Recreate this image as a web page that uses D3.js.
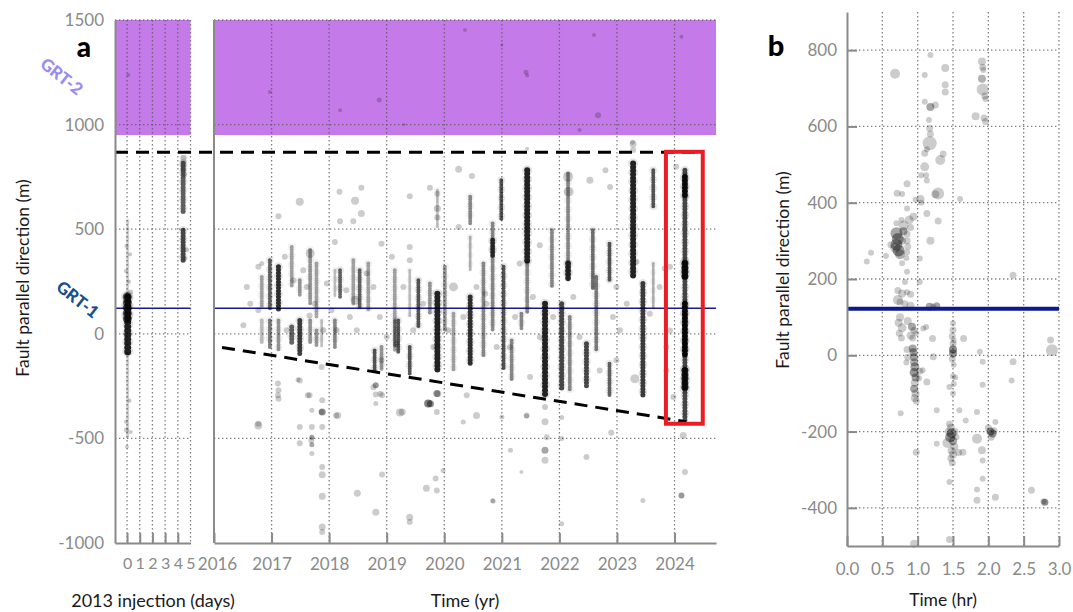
<!DOCTYPE html>
<html>
<head>
<meta charset="utf-8">
<script src="https://cdn.jsdelivr.net/npm/d3@7"></script>
<style>
    body { margin: 0; background: #fff; }
    text { font-family: Lato, "Open Sans", sans-serif; }
</style>
</head>
<body>
<svg id="chart" width="1073" height="612"></svg>
<script>
// ---- data ----
var dayTicks = [0, 1, 2, 3, 4, 5];
var yearTicks = [2016, 2017, 2018, 2019, 2020, 2021, 2022, 2023, 2024];
var depthTicksA = [-1000, -500, 0, 500, 1000, 1500];
var hourTicks = [0, 0.5, 1, 1.5, 2, 2.5, 3];
var depthTicksB = [-400, -200, 0, 200, 400, 600, 800];

var grt1 = 122, grt2Band = [950, 1500];
var upperBound = 868;
var lowerBound = [[2016.14, -65], [2024.2, -420]];
var focusBox = { t0: 2023.85, t1: 2024.49, y0: 870, y1: -430 };

// streaks of overlapping events: [time, top, bottom, alpha, width]
var streaksDays = [
    [0.05, 540, 176, 0.18, 3], [0.02, 176, 60, 0.6, 9], [0.05, 176, -94, 0.85, 7],
    [0.05, -94, -494, 0.18, 3], [4.45, 840, 780, 0.25, 6], [4.42, 815, 580, 0.6, 5],
    [4.42, 495, 337, 0.7, 5]
];
var pointsDays = [
    [0.1, 1237, 2], [-0.05, 420, 2], [0.25, 380, 2], [0.2, -320, 2], [-0.1, -420, 2],
    [0.3, -470, 2], [0.0, -540, 2], [-0.05, -460, 2.5], [4.7, 400, 2.5], [4.6, 360, 2],
    [4.5, 760, 3], [0.15, 250, 2], [-0.1, 300, 2], [0.3, 200, 2.5]
];
var streaksYears = [
    [2016.83, 272, 128, 0.35, 4], [2016.83, 64, -48, 0.25, 4],
    [2016.97, 352, 112, 0.6, 4], [2016.97, 64, -63, 0.5, 4],
    [2017.12, 320, 112, 0.8, 5], [2017.12, 64, -80, 0.4, 4],
    [2017.35, 415, 224, 0.35, 4], [2017.35, 32, -48, 0.6, 5],
    [2017.49, 256, 176, 0.4, 4], [2017.49, 64, -95, 0.75, 5],
    [2017.67, 400, 144, 0.4, 4], [2017.67, 64, -48, 0.4, 4],
    [2017.78, 336, 80, 0.35, 4], [2017.78, 16, -63, 0.4, 4],
    [2017.87, 64, -63, 0.25, 3],
    [2018.10, 304, 176, 0.25, 3], [2018.10, 64, -63, 0.45, 4],
    [2018.19, 304, 176, 0.6, 4],
    [2018.42, 352, 144, 0.35, 4],
    [2018.53, 304, 128, 0.6, 4],
    [2018.68, 336, 112, 0.35, 4],
    [2018.79, -80, -175, 0.65, 4],
    [2018.91, -63, -175, 0.4, 4],
    [2019.14, 304, -80, 0.35, 4], [2019.14, 64, -63, 0.4, 3],
    [2019.20, 64, -95, 0.65, 4],
    [2019.40, 304, 80, 0.25, 3], [2019.40, -63, -190, 0.65, 4],
    [2019.55, 256, 32, 0.65, 4],
    [2019.75, 240, 96, 0.4, 4],
    [2019.88, 686, 511, 0.25, 3], [2019.88, 192, -175, 0.85, 6],
    [2020.01, 320, 16, 0.4, 4],
    [2020.16, 96, -175, 0.35, 4],
    [2020.45, 655, 527, 0.45, 4], [2020.45, 463, 304, 0.3, 3], [2020.45, 176, -143, 0.8, 5],
    [2020.68, 336, -111, 0.45, 4],
    [2020.84, 527, 16, 0.45, 4], [2020.84, 447, 367, 0.7, 5],
    [2020.99, 734, 543, 0.65, 4],
    [2021.03, 320, -175, 0.65, 4],
    [2021.17, -32, -223, 0.45, 4],
    [2021.34, 96, 16, 0.45, 4],
    [2021.44, 782, 336, 0.85, 6], [2021.44, 336, 96, 0.45, 4],
    [2021.75, 144, -302, 0.85, 6],
    [2021.87, 495, 224, 0.45, 4],
    [2022.04, 144, -270, 0.7, 5],
    [2022.15, 766, 256, 0.45, 4], [2022.15, 336, 256, 0.75, 6],
    [2022.18, 80, -270, 0.45, 4],
    [2022.47, -47, -255, 0.7, 5],
    [2022.58, 495, 208, 0.55, 4],
    [2022.64, 272, -80, 0.5, 4],
    [2022.87, 431, 256, 0.65, 4], [2022.87, -143, -302, 0.6, 4],
    [2023.28, 814, 272, 0.85, 6],
    [2023.45, 240, -302, 0.75, 5],
    [2023.63, 782, 607, 0.65, 4], [2023.63, 336, 128, 0.3, 3],
    [2024.18, 782, -420, 0.7, 5], [2024.18, 750, 655, 0.85, 6], [2024.18, 336, 256, 0.9, 7],
    [2024.18, 144, -111, 0.9, 6], [2024.18, -175, -270, 0.85, 7]
];
// single events: [time, position, radius, alpha]
var pointsYears = [
    [2016.97, 1156, 2], [2018.19, 1069, 2], [2018.87, 1117, 2.5], [2020.36, 1452, 2],
    [2021.42, 1250, 2.5], [2021.44, 1235, 2], [2022.35, 974, 2], [2022.60, 1428, 2],
    [2024.12, 1420, 2], [2022.67, 1045, 3], [2023.28, 907, 3.5], [2021.0, 1380, 1.5],
    [2019.3, 1000, 1.5], [2021.44, 885, 2], [2023.27, 916, 2.5],
    [2017.49, 631, 4], [2017.12, 562, 3], [2018.18, 679, 3], [2018.45, 636, 4], [2018.56, 698, 3],
    [2018.56, 575, 3.5], [2018.19, 538, 3], [2018.42, 538, 3], [2019.40, 658, 3], [2019.75, 698, 3],
    [2019.88, 670, 3], [2019.88, 599, 3.5], [2019.88, 556, 3], [2020.25, 786, 3.5], [2020.48, 754, 3],
    [2020.25, 511, 3], [2022.15, 750, 5], [2022.16, 679, 5], [2022.80, 782, 3], [2022.53, 734, 3.5],
    [2023.28, 878, 3], [2022.88, 702, 3], [2024.03, 798, 3], [2021.66, 423, 3], [2023.34, 344, 3],
    [2023.83, 312, 3], [2016.77, 320, 3], [2017.67, 384, 4.5], [2018.10, 439, 3], [2018.45, 160, 4.5],
    [2018.65, 288, 3], [2018.91, 431, 3], [2019.40, 415, 3], [2019.40, 352, 3], [2020.16, 224, 4.5],
    [2019.76, -334, 3.5, 0.45], [2019.27, -374, 3.5], [2021.43, -390, 3], [2021.78, -494, 3],
    [2016.77, -430, 3], [2017.69, -510, 3], [2018.12, -390, 3], [2019.89, -286, 3.5],
    [2023.31, -215, 4.5], [2021.14, -63, 3], [2021.49, -207, 3], [2022.99, -127, 3], [2023.86, -63, 3],
    [2023.92, 16, 3], [2022.93, 80, 3], [2022.99, 224, 3], [2023.92, 320, 3], [2020.71, 192, 3],
    [2019.17, -48, 3], [2018.91, -127, 3], [2018.89, -286, 3], [2018.77, -255, 3], [2017.12, -270, 3],
    [2017.12, -310, 3], [2017.49, -223, 3], [2017.66, -294, 3], [2017.87, -374, 3], [2017.66, 88, 3],
    [2017.87, -159, 3],
    [2016.57, 224, 3], [2016.63, 144, 3], [2016.51, 41, 3], [2016.77, 112, 3], [2016.83, 336, 2.5],
    [2017.23, 368, 3], [2017.26, 17, 3], [2017.38, 256, 3], [2017.55, 304, 3], [2017.61, 224, 3],
    [2017.75, 144, 3], [2017.90, 17, 3], [2017.96, 240, 3], [2018.04, 112, 3], [2018.13, 17, 3],
    [2018.30, 208, 3], [2018.36, 80, 3], [2018.48, 17, 3], [2018.77, 224, 3], [2018.88, 80, 3],
    [2019.00, -15, 3], [2019.09, 368, 3], [2019.29, 224, 3], [2019.46, 17, 3], [2019.63, 144, 3],
    [2019.81, -63, 3], [2020.07, 17, 3], [2020.33, 80, 3], [2020.56, 224, 3], [2020.73, 144, 3],
    [2020.91, -63, 3], [2021.23, 80, 3], [2021.31, 336, 3], [2021.54, 176, 3], [2021.66, -15, 3],
    [2021.89, 80, 3], [2022.24, 176, 3], [2022.35, -15, 3], [2022.70, -175, 3], [2023.05, 17, 3],
    [2023.17, 144, 3], [2023.57, 96, 3], [2023.74, 224, 3], [2023.86, -175, 3], [2023.98, -302, 3],
    [2016.77, -438, 4], [2017.11, -294, 3], [2017.11, -238, 3], [2017.46, -220, 2.5], [2017.63, -294, 3],
    [2017.70, -366, 2.5], [2017.49, -446, 3], [2017.70, -446, 3], [2017.88, -374, 3.5, 0.4],
    [2017.88, -318, 3], [2017.88, -446, 3], [2017.70, -494, 2.5, 0.4], [2017.70, -530, 2.5, 0.35],
    [2017.70, -572, 2.5], [2017.49, -523, 3], [2017.88, -637, 3], [2017.88, -674, 3.5],
    [2017.88, -776, 3.5], [2017.88, -924, 3.5], [2017.88, -948, 3], [2018.15, -390, 3.5],
    [2018.49, -762, 3.5], [2018.81, -246, 3, 0.4], [2018.81, -290, 3], [2018.81, -333, 2.5],
    [2018.92, -294, 3], [2018.81, -853, 3.5], [2018.92, -672, 3], [2019.23, -376, 4],
    [2019.40, -877, 3.5], [2019.40, -900, 3], [2019.72, -333, 4, 0.5], [2019.87, -285, 3.5, 0.4],
    [2019.87, -374, 3], [2019.69, -738, 3.5], [2019.85, -692, 3], [2019.87, -749, 3],
    [2019.98, -653, 2.5], [2020.39, -294, 3], [2020.56, -390, 3.5], [2020.33, -422, 2.5],
    [2020.85, -800, 2.5], [2021.0, -398, 2.5], [2021.43, -393, 2.5], [2021.75, -350, 3],
    [2021.75, -420, 3.5], [2021.75, -557, 3.5, 0.35], [2021.75, -605, 3.5], [2022.04, -400, 2.5],
    [2022.04, -500, 2.5], [2022.04, -908, 2.5], [2022.47, -589, 3], [2022.90, -473, 3],
    [2023.45, -797, 2.5], [2024.15, -486, 3.5], [2024.18, -661, 3], [2024.12, -773, 3, 0.4],
    [2021.15, -557, 2.5], [2020.84, -797, 2.5], [2021.34, -661, 2]
];
var pointsHours = [
    [1.18, 787, 3], [0.68, 738, 5], [1.10, 735, 3], [1.39, 753, 4], [1.39, 709, 3.5], [1.39, 690, 3.5],
    [1.10, 665, 3], [1.18, 651, 4, 0.35], [1.25, 656, 3.5], [1.16, 617, 3],
    [1.91, 770, 4], [1.92, 755, 3.5], [1.93, 748, 3], [1.91, 725, 4, 0.3], [1.92, 697, 6],
    [1.95, 680, 3.5], [1.96, 672, 3], [1.82, 627, 4], [1.94, 622, 3.5], [1.96, 613, 3.5],
    [1.17, 595, 3.5], [1.18, 580, 3.5], [1.17, 556, 7], [1.13, 540, 3], [1.10, 530, 3.5],
    [1.36, 528, 3.5], [1.32, 512, 5], [1.10, 494, 4.5], [1.05, 472, 3], [1.12, 472, 3], [1.13, 458, 3],
    [0.71, 425, 3.5], [0.78, 423, 3], [0.85, 450, 3.5], [1.29, 424, 6], [1.25, 422, 4], [1.60, 410, 3],
    [1.04, 410, 4], [0.97, 408, 3], [1.05, 400, 3], [1.13, 372, 3.5], [1.29, 352, 3.5], [1.18, 300, 4],
    [0.28, 246, 3], [0.34, 269, 3], [2.35, 210, 3.5],
    [0.85, 385, 3], [0.94, 363, 4], [0.88, 355, 4.5], [0.77, 355, 3], [0.70, 346, 3], [0.80, 340, 5],
    [0.90, 335, 3.5],
    [0.70, 320, 6, 0.35], [0.72, 305, 6, 0.4], [0.70, 290, 6, 0.35], [0.73, 275, 6, 0.4],
    [0.75, 265, 5, 0.3], [0.68, 282, 5], [0.78, 300, 4], [0.85, 318, 3.5], [0.85, 300, 3.5],
    [0.86, 285, 3.5], [0.85, 270, 3], [0.84, 255, 3], [0.62, 290, 3.5], [0.55, 260, 3], [0.78, 241, 3],
    [0.85, 219, 3], [1.03, 254, 3], [0.80, 325, 4, 0.35], [0.82, 192, 3], [1.03, 192, 3],
    [0.72, 170, 3.5], [0.78, 162, 4], [0.85, 165, 3], [0.9, 160, 3.5], [0.75, 140, 3.5],
    [0.82, 135, 3.5], [0.9, 130, 4], [0.72, 145, 5], [1.17, 127, 4, 0.35], [1.27, 130, 3.5, 0.35],
    [1.22, 128, 3],
    [0.75, 100, 4], [0.73, 85, 4], [0.78, 72, 4.5], [0.74, 58, 3.5], [0.77, 45, 3.5], [0.86, 90, 4],
    [0.92, 75, 4, 0.35], [0.95, 65, 3.5], [0.90, 52, 4], [0.93, 45, 3.5], [0.98, 58, 3], [1.12, 74, 3],
    [1.21, 44, 3.5], [1.08, 70, 3], [1.50, 84, 3], [1.50, 66, 3.5], [1.49, 50, 3.5], [1.51, 39, 3],
    [1.65, 44, 3.5], [2.88, 40, 3.5], [2.90, 13, 6],
    [0.85, 15, 3.5], [0.86, -5, 3.5], [0.84, -19, 3],
    [0.93, 18, 4, 0.35], [0.94, 8, 4, 0.35], [0.95, -5, 4, 0.35], [0.95, -18, 4, 0.3],
    [0.96, -30, 4.5, 0.35], [0.95, -45, 4.5, 0.4], [0.97, -58, 4, 0.35], [0.96, -72, 4],
    [0.95, -88, 4, 0.35], [0.97, -100, 4], [0.96, -112, 4], [0.98, -120, 3.5], [1.03, -42, 3.5],
    [1.07, -39, 3], [1.02, -60, 3], [1.13, -70, 3.5], [1.22, -4, 3.5], [1.45, -83, 3],
    [1.50, 30, 3.5], [1.50, 15, 4, 0.45], [1.50, 5, 4, 0.4], [1.49, -10, 3.5], [1.51, -25, 3],
    [1.50, -55, 3], [1.51, -75, 3], [1.50, -100, 3], [1.53, -58, 3],
    [1.88, 9, 3], [1.92, -17, 3], [2.35, -17, 3.5], [2.33, -66, 3], [1.92, -77, 3],
    [1.27, -144, 3], [1.59, -144, 3], [1.68, -171, 3], [1.84, -149, 3], [0.76, -152, 3],
    [1.45, -180, 3.5], [1.47, -190, 4], [1.48, -205, 5, 0.4], [1.46, -215, 5, 0.4],
    [1.50, -225, 4, 0.35], [1.42, -230, 5], [1.52, -240, 4], [1.48, -250, 4], [1.50, -260, 4],
    [1.47, -270, 3.5], [1.49, -282, 3.5], [1.44, -200, 4], [1.53, -200, 3.5], [1.55, -215, 3],
    [1.58, -255, 3.5], [1.27, -232, 3],
    [0.98, -254, 3.5], [1.64, -254, 3.5], [1.84, -219, 5], [1.91, -249, 4], [1.92, -276, 3],
    [2.0, -190, 3.5], [2.03, -200, 4, 0.4], [2.06, -205, 4, 0.4], [2.04, -215, 3.5], [2.08, -198, 3.5],
    [2.1, -175, 3],
    [1.45, -332, 3], [1.92, -324, 3], [1.84, -352, 3], [1.84, -380, 3.5], [2.10, -372, 3.5],
    [2.61, -354, 3.5], [2.80, -385, 3.5, 0.45], [2.78, -383, 3], [0.95, -494, 4], [1.45, -483, 3.5]
];

// ---- scales ----
var svg = d3.select('#chart');
var dayX = d3.scaleLinear().domain([-0.95, 5]).range([115, 190.5]),
    yearX = d3.scaleLinear().domain([2016, 2024.72]).range([214, 716]),
    yA = d3.scaleLinear().domain([-1000, 1500]).range([543, 20]),
    hourX = d3.scaleLinear().domain([0, 3]).range([847, 1059]),
    yB = d3.scaleLinear().domain([-500, 900]).range([546, 12]);

var plain = function(d) { return String(d); };

var gridStyle = function(sel)
{
    sel.attr('stroke', '#555').attr('stroke-opacity', 0.75)
        .attr('stroke-width', 1.3).attr('stroke-dasharray', '1.4,2.6');
};

// purple GRT-2 band
[dayX, yearX].forEach(function(x)
{
    svg.append('rect')
        .attr('x', x.range()[0]).attr('width', x.range()[1] - x.range()[0])
        .attr('y', yA(grt2Band[1])).attr('height', yA(grt2Band[0]) - yA(grt2Band[1]))
        .attr('fill', '#c47ae8');
});

// grids, panel a
var gridA = svg.append('g');
[[dayX, dayTicks], [yearX, yearTicks.slice(1)]].forEach(function(p)
{
    var x = p[0];
    gridA.selectAll(null).data(p[1]).enter().append('line')
        .attr('x1', x).attr('x2', x).attr('y1', yA(1500)).attr('y2', yA(-1000))
        .call(gridStyle);
    gridA.selectAll(null).data(depthTicksA.slice(1)).enter().append('line')
        .attr('x1', x.range()[0]).attr('x2', x.range()[1])
        .attr('y1', yA).attr('y2', yA)
        .call(gridStyle);
});

// grids, panel b
var gridB = svg.append('g');
gridB.selectAll(null).data(hourTicks.slice(1)).enter().append('line')
    .attr('x1', hourX).attr('x2', hourX).attr('y1', yB(900)).attr('y2', yB(-500))
    .call(gridStyle);
gridB.selectAll(null).data(depthTicksB).enter().append('line')
    .attr('x1', hourX(0)).attr('x2', hourX(3)).attr('y1', yB).attr('y2', yB)
    .call(gridStyle);

// GRT-1 lines
[dayX, yearX].forEach(function(x)
{
    svg.append('line').attr('x1', x.range()[0]).attr('x2', x.range()[1])
        .attr('y1', yA(grt1)).attr('y2', yA(grt1))
        .attr('stroke', '#1a1a8c').attr('stroke-width', 1.6);
});

// events: streaks drawn as beaded columns (round dots along the column)
var drawStreaks = function(rows, x)
{
    var g = svg.append('g');
    var col = function(sel, widen, fade, gap)
    {
        sel.attr('x1', function(d) { return x(d[0]); })
            .attr('x2', function(d) { return x(d[0]); })
            .attr('y1', function(d) { return yA(d[1]); })
            .attr('y2', function(d) { return yA(d[2]); })
            .attr('stroke', '#000')
            .attr('stroke-opacity', function(d) { return d[3] * fade; })
            .attr('stroke-width', function(d) { return d[4] + widen; })
            .attr('stroke-linecap', 'round')
            .attr('stroke-dasharray', function(d) { return '0.01,' + (gap || (d[4] * 0.6)); });
    };
    g.selectAll(null).data(rows).enter().append('line').call(col, 4, 0.13, 9);
    g.selectAll(null).data(rows).enter().append('line').call(col, 0, 1);
}, drawPoints = function(rows, x, y, alpha)
{
    svg.append('g').selectAll('circle').data(rows).enter().append('circle')
        .attr('cx', function(d) { return x(d[0]); })
        .attr('cy', function(d) { return y(d[1]); })
        .attr('r', function(d) { return d[2]; })
        .attr('fill', '#000')
        .attr('fill-opacity', function(d) { return d[3] || alpha; });
};

drawStreaks(streaksDays, dayX);
drawStreaks(streaksYears, yearX);
drawPoints(pointsDays, dayX, yA, 0.2);
drawPoints(pointsYears, yearX, yA, 0.2);
drawPoints(pointsHours, hourX, yB, 0.2);

svg.append('line').attr('x1', hourX(0)).attr('x2', hourX(3))
    .attr('y1', yB(grt1)).attr('y2', yB(grt1))
    .attr('stroke', '#0d1a8c').attr('stroke-width', 4);

// bounds and focus box
svg.append('line')
    .attr('x1', dayX(-0.95)).attr('x2', yearX(focusBox.t1))
    .attr('y1', yA(upperBound)).attr('y2', yA(upperBound))
    .attr('stroke', '#000').attr('stroke-width', 3).attr('stroke-dasharray', '13,8');
svg.append('line')
    .attr('x1', yearX(lowerBound[0][0])).attr('y1', yA(lowerBound[0][1]))
    .attr('x2', yearX(lowerBound[1][0])).attr('y2', yA(lowerBound[1][1]))
    .attr('stroke', '#000').attr('stroke-width', 3).attr('stroke-dasharray', '13,8');
svg.append('rect')
    .attr('x', yearX(focusBox.t0)).attr('width', yearX(focusBox.t1) - yearX(focusBox.t0))
    .attr('y', yA(focusBox.y0)).attr('height', yA(focusBox.y1) - yA(focusBox.y0))
    .attr('fill', 'none').attr('stroke', '#ec1c24').attr('stroke-width', 4);

// axes
var styleAxis = function(g, size)
{
    g.select('.domain').attr('stroke', '#8a8a8a').attr('stroke-width', 2);
    g.selectAll('.tick line').attr('stroke', '#8a8a8a').attr('stroke-width', 2);
    g.selectAll('.tick text').attr('fill', '#8a8a8a').style('font-size', (size || 17) + 'px')
        .style('font-family', 'Lato, sans-serif');
};

svg.append('g').attr('transform', 'translate(0,' + yA(-1000) + ')')
    .call(d3.axisBottom(dayX).tickValues(dayTicks).tickFormat(plain).tickSize(-10).tickSizeOuter(0).tickPadding(15))
    .call(styleAxis, 16)
    .call(function(g) { g.selectAll('.tick').filter(function(d) { return d === 5; }).select('line').remove(); });
svg.append('g').attr('transform', 'translate(0,' + yA(-1000) + ')')
    .call(d3.axisBottom(yearX).tickValues(yearTicks).tickFormat(plain).tickSize(-10).tickSizeOuter(0).tickPadding(15))
    .call(styleAxis, 17)
    .call(function(g) { g.selectAll('.tick').filter(function(d) { return d === 2016; }).select('text').attr('dx', 3); });
svg.append('g').attr('transform', 'translate(' + dayX(-0.95) + ',0)')
    .call(d3.axisLeft(yA).tickValues(depthTicksA).tickFormat(plain).tickSize(0).tickPadding(11))
    .call(styleAxis, 17);
svg.append('line').attr('x1', yearX(2016)).attr('x2', yearX(2016))
    .attr('y1', yA(1500)).attr('y2', yA(-1000)).attr('stroke', '#8a8a8a').attr('stroke-width', 2);

svg.append('g').attr('transform', 'translate(0,' + yB(-500) + ')')
    .call(d3.axisBottom(hourX).tickValues(hourTicks).tickFormat(d3.format('.1f')).tickSize(-10).tickSizeOuter(0).tickPadding(17))
    .call(styleAxis, 17);
svg.append('g').attr('transform', 'translate(' + hourX(0) + ',0)')
    .call(d3.axisLeft(yB).tickValues(depthTicksB).tickFormat(plain).tickSize(-10).tickSizeOuter(0).tickPadding(10))
    .call(styleAxis, 17);

// labels
var label = function(x, y, txt, opts)
{
    opts = opts || {};
    return svg.append('text')
        .attr('transform', 'translate(' + x + ',' + y + ') rotate(' + (opts.rot || 0) + ')')
        .attr('text-anchor', 'middle').attr('dominant-baseline', 'central')
        .attr('fill', opts.fill || '#1a1a1a')
        .style('font-size', (opts.size || 17) + 'px')
        .style('font-weight', opts.weight || 'normal')
        .text(txt);
};

label(22, 278, 'Fault parallel direction (m)', { rot: -90, size: 17.5 });
label(782, 270, 'Fault parallel direction (m)', { rot: -90, size: 17.5 });
label(153, 600, '2013 injection (days)', { size: 18 });
label(465, 600, 'Time (yr)', { size: 18 });
label(943, 599, 'Time (hr)', { size: 17.5 });
label(84, 46, 'a', { size: 28, weight: 900, fill: '#000' });
label(776, 44, 'b', { size: 29, weight: 900, fill: '#000' });
label(62, 76, 'GRT-2', { rot: 38, fill: '#978cf2', size: 17, weight: 900 });
label(78, 299, 'GRT-1', { rot: 38, fill: '#17508a', size: 17, weight: 900 });
</script>
</body>
</html>
